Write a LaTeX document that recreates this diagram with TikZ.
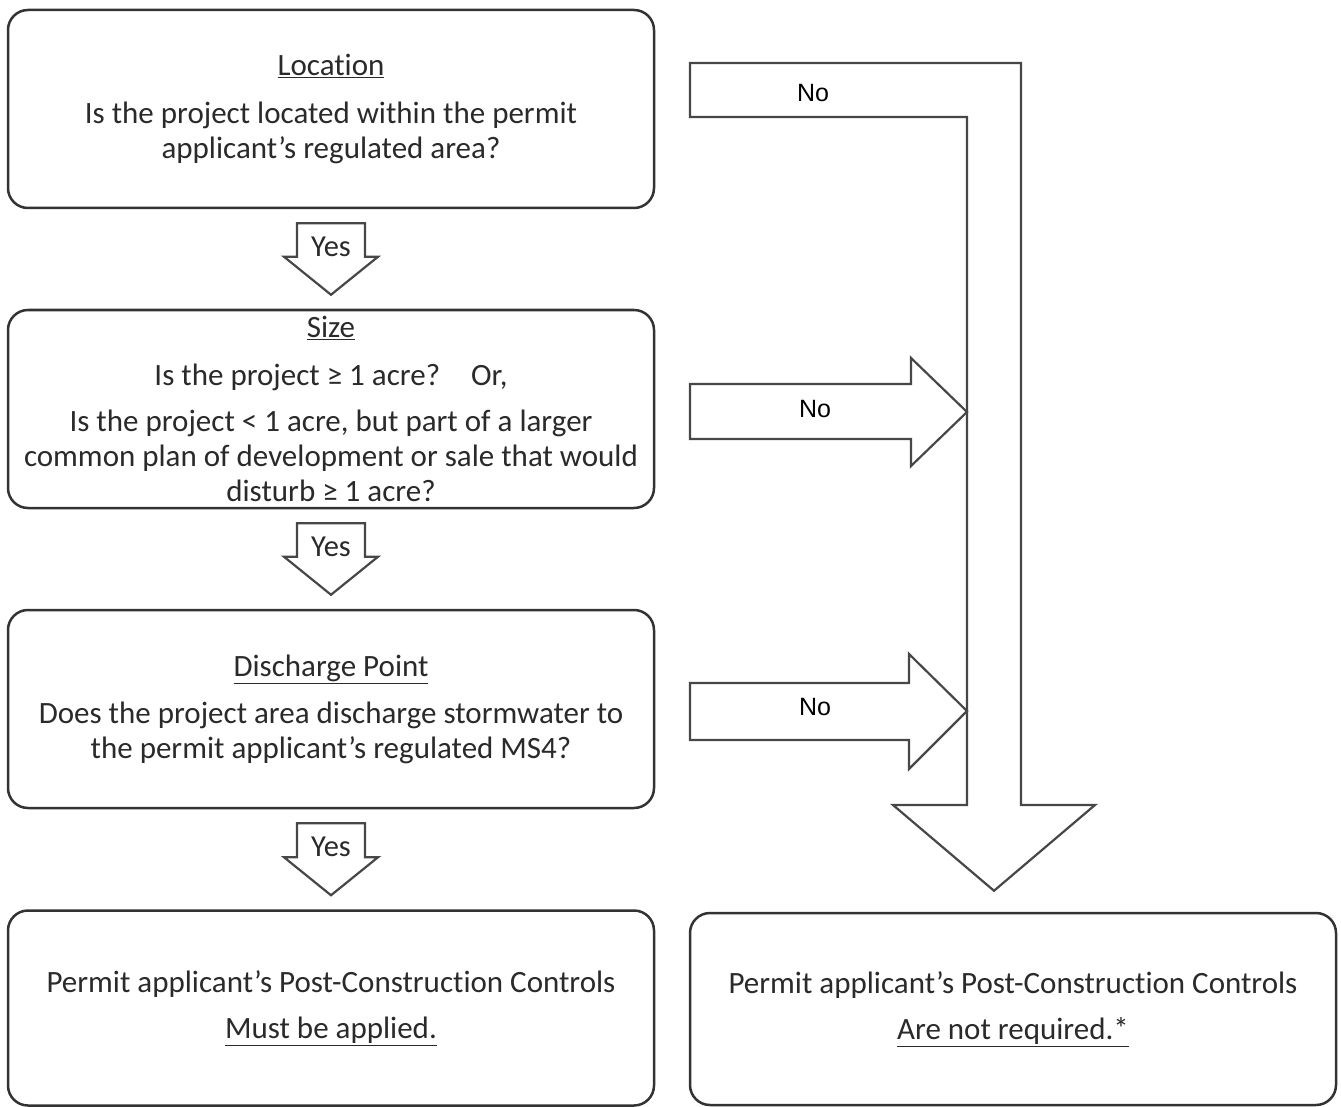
\documentclass[tikz,border=0pt]{standalone}
\usepackage{fontspec}
\setmainfont{Carlito}[Ligatures={NoCommon}]
\newfontfamily\arialfont{Liberation Sans}
\usetikzlibrary{calc}
\definecolor{ink}{HTML}{2A2A2A}
\definecolor{edge}{HTML}{333333}
\newcommand{\ulx}[1]{\underline{#1}}
\begin{document}
\begin{tikzpicture}[x=1pt,y=-1pt,
  qbox/.style={draw=edge,line width=2.5pt,rounded corners=20pt,fill=white,
    minimum width=646pt,inner sep=0pt,align=center,text=ink,
    font=\fontsize{31}{35}\selectfont},
  blockarrow/.style={draw=edge!90,line width=2.2pt,fill=white,line join=miter},
  yeslbl/.style={text=ink,font=\fontsize{30.5}{34}\selectfont,inner sep=0pt},
  nolbl/.style={text=black,font=\arialfont\fontsize{25}{30}\selectfont,inner sep=0pt}]
\useasboundingbox (0,0) rectangle (1341,1107);

% question boxes
\node[qbox,minimum height=198pt] (loc) at (331,109)
  {\ulx{Location}\\[13pt]Is the project located within the permit\\applicant’s regulated area?};
\node[qbox,minimum height=198pt] (size) at (331,409)
  {\ulx{Size}\\[13pt]Is the project ≥ 1 acre?\quad Or,\\[11pt]Is the project < 1 acre, but part of a larger\\common plan of development or sale that would\\disturb ≥ 1 acre?};
\node[qbox,minimum height=198pt] (dis) at (331,709)
  {\ulx{Discharge Point}\\[12pt]Does the project area discharge stormwater to\\the permit applicant’s regulated MS4?};
\node[qbox,minimum height=195pt] (must) at (331,1008)
  {Permit applicant’s Post-Construction Controls\\[11pt]\ulx{Must be applied.}};
\node[qbox,minimum height=192pt] (notreq) at (1013,1009)
  {Permit applicant’s Post-Construction Controls\\[11pt]\ulx{Are not required.*}};

% Yes block arrows
\foreach \a/\b/\n in {loc/size/1,size/dis/2,dis/must/3}{
  \coordinate (ys\n) at ($(\a.south)+(0,14)$);
  \coordinate (yt\n) at ($(\b.north)+(0,-14)$);
  \draw[blockarrow] ($(ys\n)+(-34,0)$) -- ($(ys\n)+(34,0)$) -- ($(yt\n)+(34,-38)$)
    -- ($(yt\n)+(47,-38)$) -- (yt\n) -- ($(yt\n)+(-47,-38)$) -- ($(yt\n)+(-34,-38)$) -- cycle;
  \node[yeslbl] (yes\n) at ($(ys\n)+(0,24)$) {Yes};
}

% big L-shaped No arrow
\coordinate (btip) at ($(notreq.north)+(-19,-21)$);
\draw[blockarrow] (690,63) -- (1021,63) -- (1021,805) -- (1095,805) -- (btip)
  -- (893,805) -- (967,805) -- (967,117) -- (690,117) -- cycle;
\node[nolbl] (no1) at (813,93) {No};

% side No arrows
\coordinate (t2) at (967,412);
\draw[blockarrow] (690,384) -- (911,384) -- (911,358) -- (t2) -- (911,466)
  -- (911,439) -- (690,439) -- cycle;
\node[nolbl] (no2) at (815,409) {No};
\coordinate (t3) at (967,711);
\draw[blockarrow] (690,683) -- (909,683) -- (909,654) -- (t3) -- (909,769)
  -- (909,740) -- (690,740) -- cycle;
\node[nolbl] (no3) at (815,707) {No};
\end{tikzpicture}
\end{document}
